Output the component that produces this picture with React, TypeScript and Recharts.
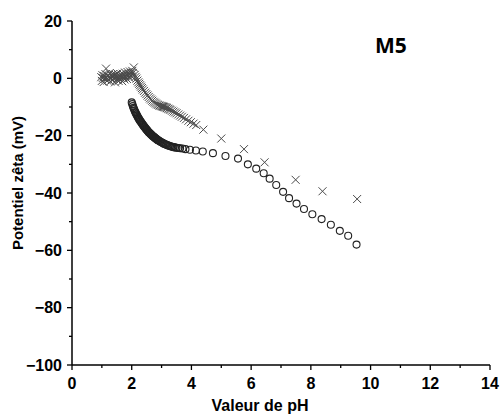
import React from 'react';
import { ScatterChart, Scatter, XAxis, YAxis, Label } from 'recharts';

// pH values and zeta potential (mV), crosses series
const crossPH = [
  0.98, 1.0, 1.02, 1.04, 1.06, 1.08, 1.1, 1.12, 1.14, 1.16, 1.18, 1.2, 1.22, 1.24, 1.26, 1.28,
  1.3, 1.32, 1.34, 1.36, 1.38, 1.4, 1.42, 1.44, 1.46, 1.48, 1.5, 1.52, 1.54, 1.56, 1.58, 1.6,
  1.62, 1.64, 1.66, 1.68, 1.7, 1.72, 1.74, 1.76, 1.78, 1.8, 1.82, 1.84, 1.86, 1.88, 1.9, 1.92,
  1.94, 1.96, 1.98, 2.0, 2.02, 2.04, 2.07,
  2.1, 2.13, 2.16, 2.19, 2.22, 2.25, 2.28, 2.31, 2.34, 2.37, 2.41, 2.45, 2.49, 2.53, 2.57, 2.61,
  2.65, 2.69, 2.73, 2.77, 2.81, 2.85, 2.89, 2.93, 2.97, 3.0, 3.03, 3.06, 3.09, 3.12, 3.15, 3.18,
  3.22, 3.26, 3.3, 3.35, 3.4, 3.45, 3.5, 3.56, 3.62, 3.68, 3.75, 3.82, 3.9, 3.98, 4.07, 4.16,
  4.4, 5.0, 5.76, 6.45, 7.49, 8.39, 9.55,
];
const crossZeta = [
  0.4, -0.9, 1.1, 0.2, -1.3, 0.8, -0.2, 1.5, 3.4, 0.3, -0.8, 1.0, -0.4, 0.6, 1.8, -1.1,
  0.1, 1.2, -0.6, 0.7, 1.5, -0.2, 0.9, -1.4, 1.3, 0.4, -0.5, 1.7, 0.2, -0.9, 1.0, 0.5,
  -0.3, 1.4, 0.8, -1.0, 1.6, 0.3, 1.1, -0.4, 2.0, 0.7, 1.3, -0.2, 2.2, 0.9, 1.5, 0.2,
  2.4, 1.1, 1.8, 0.6, 2.6, 1.9, 3.8,
  1.2, 0.5, -0.1, -0.8, -1.4, -1.9, -2.4, -2.9, -3.4, -3.9, -4.4, -5.0, -5.5, -6.0, -6.5, -7.0,
  -7.4, -7.8, -8.2, -8.5, -8.8, -9.1, -9.3, -9.5, -9.6, -9.7, -9.8, -9.9, -10.0, -10.1, -10.2, -10.4,
  -10.6, -10.8, -11.0, -11.3, -11.6, -11.9, -12.2, -12.6, -13.0, -13.4, -13.8, -14.3, -14.8, -15.3, -15.8, -16.3,
  -17.9, -21.0, -24.7, -29.3, -35.4, -39.4, -42.1,
];

// circles series
const circlePH = [
  2.0, 2.02, 2.04, 2.06, 2.08, 2.1, 2.12, 2.14, 2.16, 2.18, 2.2, 2.22, 2.24, 2.26, 2.28, 2.3,
  2.32, 2.34, 2.36, 2.38, 2.4, 2.42, 2.44, 2.46, 2.48, 2.5, 2.52, 2.54, 2.56, 2.58, 2.6, 2.62,
  2.64, 2.66, 2.68, 2.7, 2.72, 2.74, 2.76, 2.78, 2.8, 2.82, 2.84, 2.86, 2.88, 2.9, 2.93, 2.96,
  3.0, 3.03, 3.06, 3.1, 3.13, 3.16, 3.2, 3.24, 3.28, 3.32, 3.36, 3.4, 3.45, 3.5, 3.56, 3.62,
  3.7, 3.8, 3.95, 4.15, 4.38, 4.72, 5.14, 5.56, 5.89, 6.17, 6.42, 6.62, 6.84, 7.07, 7.27, 7.52,
  7.77, 8.05, 8.36, 8.67, 8.97, 9.25, 9.53,
];
const circleZeta = [
  -8.4, -9.0, -9.7, -10.3, -10.8, -11.3, -11.8, -12.2, -12.6, -13.0, -13.4, -13.8, -14.1, -14.5, -14.8, -15.1,
  -15.4, -15.7, -16.0, -16.3, -16.6, -16.9, -17.1, -17.4, -17.7, -17.9, -18.2, -18.4, -18.7, -18.9, -19.1, -19.3,
  -19.5, -19.7, -19.9, -20.1, -20.3, -20.4, -20.6, -20.8, -20.9, -21.1, -21.3, -21.4, -21.6, -21.7, -21.9, -22.1,
  -22.3, -22.5, -22.7, -22.9, -23.0, -23.2, -23.3, -23.5, -23.6, -23.8, -23.9, -24.0, -24.1, -24.2, -24.3, -24.4,
  -24.5, -24.7, -24.9, -25.2, -25.5, -26.1, -27.1, -28.0, -30.0, -31.5, -33.1, -35.0, -37.2, -39.6, -41.8, -43.7,
  -45.6, -47.4, -49.1, -51.1, -53.2, -54.9, -58.0,
];

const xTicks = [0, 1, 2, 3, 4, 5, 6, 7, 8, 9, 10, 11, 12, 13, 14];
const yTicks = [-100, -90, -80, -70, -60, -50, -40, -30, -20, -10, 0, 10, 20];

const crosses = crossPH.map((x, i) => ({ x, y: crossZeta[i] }));
const circles = circlePH.map((x, i) => ({ x, y: circleZeta[i] }));

const FONT = '"Liberation Sans", Arial, sans-serif';

const CrossShape = (props: any) => {
  const { cx, cy } = props;
  const s = 4;
  return (
    <path
      d={`M${cx - s},${cy - s}L${cx + s},${cy + s}M${cx - s},${cy + s}L${cx + s},${cy - s}`}
      stroke="#4a4a4a"
      strokeWidth={1}
      fill="none"
    />
  );
};

const CircleShape = (props: any) => {
  const { cx, cy } = props;
  return <circle cx={cx} cy={cy} r={3.5} stroke="#222" strokeWidth={1.1} fill="none" />;
};

const XTick = (props: any) => {
  const { x, y, payload } = props;
  const major = payload.value % 2 === 0;
  return (
    <g>
      <line x1={x} x2={x} y1={y} y2={y + (major ? 5 : 3)} stroke="#000" strokeWidth={1.3} />
      {major && (
        <text x={x} y={y + 18} textAnchor="middle" dominantBaseline="central" fontFamily={FONT} fontWeight="bold" fontSize={16} fill="#000">
          {payload.value}
        </text>
      )}
    </g>
  );
};

const YTick = (props: any) => {
  const { x, y, payload } = props;
  const major = payload.value % 20 === 0;
  const label = payload.value < 0 ? '\u2212' + Math.abs(payload.value) : String(payload.value);
  return (
    <g>
      <line x1={x} x2={x - (major ? 5 : 3)} y1={y} y2={y} stroke="#000" strokeWidth={1.3} />
      {major && (
        <text x={x - 10} y={y} textAnchor="end" dominantBaseline="central" fontFamily={FONT} fontWeight="bold" fontSize={16} fill="#000">
          {label}
        </text>
      )}
    </g>
  );
};

export default function App() {
  return (
    <div style={{ position: 'absolute', left: 0, top: 0, width: 503, height: 417, background: '#fff' }}>
      <ScatterChart width={503} height={417} margin={{ top: 21, right: 13, left: 0, bottom: 0 }}>
        <XAxis
          type="number"
          dataKey="x"
          domain={[0, 14]}
          ticks={xTicks}
          interval={0}
          tickSize={0}
          tickMargin={0}
          tickLine={false}
          tick={<XTick />}
          height={52}
          axisLine={{ stroke: '#000', strokeWidth: 1.5 }}
        >
          <Label
            content={() => (
              <text x={260} y={405} textAnchor="middle" dominantBaseline="central" fontFamily={FONT} fontWeight="bold" fontSize={16} fill="#000">
                Valeur de pH
              </text>
            )}
          />
        </XAxis>
        <YAxis
          type="number"
          dataKey="y"
          domain={[-100, 20]}
          ticks={yTicks}
          interval={0}
          tickSize={0}
          tickMargin={0}
          tickLine={false}
          tick={<YTick />}
          width={72}
          axisLine={{ stroke: '#000', strokeWidth: 1.5 }}
        >
          <Label
            content={() => (
              <text
                x={17}
                y={183}
                transform="rotate(-90 17 183)"
                textAnchor="middle"
                dominantBaseline="central"
                fontFamily={FONT}
                fontWeight="bold"
                fontSize={15}
                fill="#000"
              >
                Potentiel zêta (mV)
              </text>
            )}
          />
        </YAxis>
        <Scatter data={crosses} shape={<CrossShape />} isAnimationActive={false} />
        <Scatter data={circles} shape={<CircleShape />} isAnimationActive={false} />
      </ScatterChart>
      <div
        style={{
          position: 'absolute',
          left: 375,
          top: 31,
          fontFamily: '"Open Sans", sans-serif',
          fontWeight: 700,
          fontSize: 21,
          lineHeight: '28px',
        }}
      >
        M5
      </div>
    </div>
  );
}
